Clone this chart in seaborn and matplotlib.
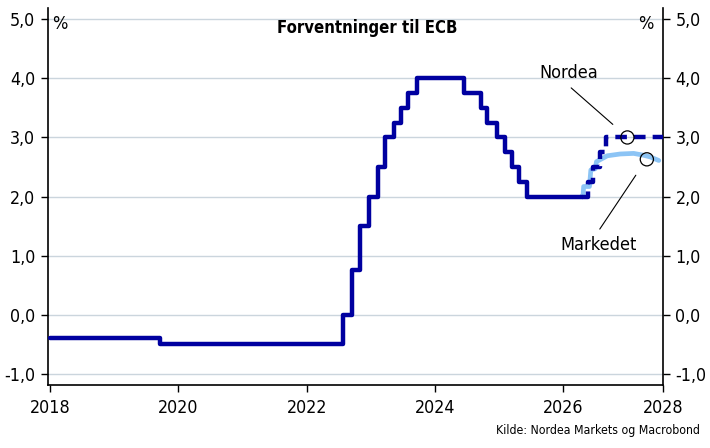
import pandas as pd
import matplotlib
matplotlib.use('Agg')
import matplotlib.pyplot as plt
import matplotlib.dates as mdates
from matplotlib.ticker import FuncFormatter
import seaborn as sns

# ECB innskuddsrente (historikk)
hist_dato = ['2018-01-01', '2019-09-18', '2022-07-27', '2022-09-14', '2022-11-02',
             '2022-12-21', '2023-02-08', '2023-03-22', '2023-05-10', '2023-06-21',
             '2023-08-02', '2023-09-20', '2024-06-12', '2024-09-18', '2024-10-23',
             '2024-12-18', '2025-02-05', '2025-03-12', '2025-04-23', '2025-06-11',
             '2026-04-15']
hist_rente = [-0.40, -0.50, 0.00, 0.75, 1.50, 2.00, 2.50, 3.00, 3.25, 3.50,
              3.75, 4.00, 3.75, 3.50, 3.25, 3.00, 2.75, 2.50, 2.25, 2.00, 2.00]

# Nordeas prognose
nordea_dato = ['2026-04-15', '2026-05-20', '2026-06-18', '2026-07-30', '2026-09-02', '2027-08-31']
nordea_rente = [2.00, 2.25, 2.50, 2.75, 3.00, 3.00]

# Markedsprising
marked_dato = ['2026-04-15', '2026-04-23', '2026-04-27', '2026-05-30', '2026-06-07',
               '2026-07-02', '2026-07-09', '2026-09-09', '2026-11-21', '2027-02-06',
               '2027-04-02', '2027-05-12', '2027-06-29']
marked_rente = [2.00, 2.00, 2.17, 2.17, 2.45, 2.47, 2.59, 2.69, 2.72, 2.73,
                2.70, 2.67, 2.61]

# Markering av sirkler
sirkel_dato = ['2027-01-01', '2027-04-22']
sirkel_rente = [3.00, 2.63]

y_ticks = [-1, 0, 1, 2, 3, 4, 5]
x_ticks = ['2018-01-01', '2020-01-01', '2022-01-01', '2024-01-01', '2026-01-01', '2027-07-23']
x_labels = ['2018', '2020', '2022', '2024', '2026', '2028']

MORK = '#0000A0'
LYS = '#8CC4F5'

sns.set_theme(style='white')
plt.rcParams['font.family'] = ['DejaVu Sans']
plt.rcParams['font.stretch'] = 'condensed'
plt.rcParams['text.color'] = 'black'

hist = pd.DataFrame({'dato': pd.to_datetime(hist_dato), 'rente': hist_rente})
nordea = pd.DataFrame({'dato': pd.to_datetime(nordea_dato), 'rente': nordea_rente})
marked = pd.DataFrame({'dato': pd.to_datetime(marked_dato), 'rente': marked_rente})
sirkel = pd.DataFrame({'dato': pd.to_datetime(sirkel_dato), 'rente': sirkel_rente})

fig = plt.figure(figsize=(7.1, 4.48), dpi=100)
ax = fig.add_axes([0.0672, 0.1406, 0.8666, 0.8414])

for y in y_ticks:
    ax.axhline(y, color='#CBD5DD', lw=1, zorder=0)

sns.lineplot(data=marked, x='dato', y='rente', ax=ax, color=LYS, lw=3.4, zorder=2)
sns.lineplot(data=nordea, x='dato', y='rente', ax=ax, color=MORK, lw=3.2,
             drawstyle='steps-post', zorder=3)
ax.lines[-1].set_dashes((2.6, 1.6))
sns.lineplot(data=hist, x='dato', y='rente', ax=ax, color=MORK, lw=3.2,
             drawstyle='steps-post', zorder=4)
sns.scatterplot(data=sirkel, x='dato', y='rente', ax=ax, s=90, facecolor='none',
                edgecolor='black', linewidth=0.9, zorder=5)

ax.set_xlim(pd.Timestamp('2017-12-17'), pd.Timestamp('2027-07-23'))
ax.set_ylim(-1.19, 5.19)
ax.set_xticks(pd.to_datetime(x_ticks))
ax.set_xticklabels(x_labels)
ax.set_yticks(y_ticks)
fmt = FuncFormatter(lambda v, p: f'{v:.1f}'.replace('.', ','))
ax.yaxis.set_major_formatter(fmt)
ax.set_xlabel('')
ax.set_ylabel('')

ax.tick_params(axis='both', which='both', direction='out', length=5, width=1,
               color='black', labelsize=12.8, labelcolor='black')
ax.tick_params(axis='y', left=True, right=True, labelleft=True, labelright=True, pad=4)
ax.tick_params(axis='x', bottom=True, pad=5)
ax.spines['top'].set_visible(False)
for s in ['left', 'right', 'bottom']:
    ax.spines[s].set_color('black')
    ax.spines[s].set_linewidth(1.2)

# annoteringer
d = mdates.date2num
ax.annotate('', xy=(d(pd.Timestamp('2026-10-22')), 3.19), xytext=(d(pd.Timestamp('2026-02-03')), 3.87),
            arrowprops=dict(arrowstyle='-', color='black', lw=0.8))
ax.text(d(pd.Timestamp('2026-01-30')), 4.09, 'Nordea', ha='center', va='center', fontsize=13)
ax.annotate('', xy=(d(pd.Timestamp('2027-02-27')), 2.40), xytext=(d(pd.Timestamp('2026-07-19')), 1.41),
            arrowprops=dict(arrowstyle='-', color='black', lw=0.8))
ax.text(d(pd.Timestamp('2026-07-19')), 1.18, 'Markedet', ha='center', va='center', fontsize=13)

fig.text(0.517, 0.937, 'Forventninger til ECB', ha='center', va='center',
         fontsize=12, fontweight='bold')
fig.text(0.074, 0.947, '%', ha='left', va='center', fontsize=13)
fig.text(0.921, 0.947, '%', ha='right', va='center', fontsize=13)
fig.text(0.986, 0.04, 'Kilde: Nordea Markets og Macrobond', ha='right', va='center', fontsize=8.8)

fig.savefig('out.png', dpi=100)
